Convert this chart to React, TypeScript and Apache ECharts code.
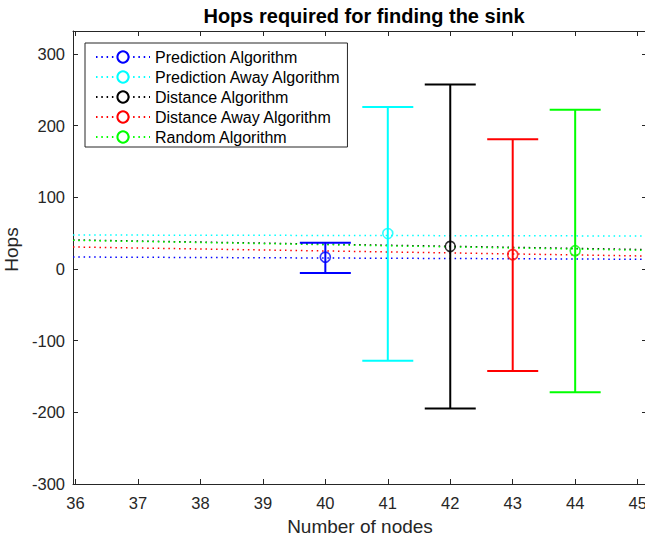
import React, { useEffect, useRef } from "react";
import * as echarts from "echarts";

const seriesNames = [
  "Prediction Algorithm",
  "Prediction Away Algorithm",
  "Distance Algorithm",
  "Distance Away Algorithm",
  "Random Algorithm",
];
const seriesColors = ["#0000ff", "#00ffff", "#000000", "#ff0000", "#00ff00"];
const nodeCounts = [40, 41, 42, 43, 44];
const meanHops = [16.5, 49.5, 31.5, 20, 25.5];
const lowerHops = [-5.5, -128, -194.5, -142.5, -172];
const upperHops = [36.5, 226, 257.5, 181, 222];
// dotted reference lines: value at left edge and right edge of the axis
const trendStartHops = [16.7, 47.4, 40.5, 30.7, 40];
const trendEndHops = [13.5, 46, 27, 18, 26];

const xTicks = [36, 37, 38, 39, 40, 41, 42, 43, 44, 45];
const yTicks = [-300, -200, -100, 0, 100, 200, 300];
const xMin = 35.96;
const xMax = 45.15;
const yMin = -300;
const yMax = 332;

const FONT = "'Liberation Sans', Arial, Helvetica, sans-serif";
const AXIS_COLOR = "#262626";

export default function App() {
  const ref = useRef<HTMLDivElement>(null);
  useEffect(() => {
    if (!ref.current) return;
    const chart = echarts.init(ref.current, undefined, { renderer: "svg" });

    const series: any[] = [];
    seriesNames.forEach((name, i) => {
      series.push({
        type: "line",
        name,
        data: [
          [xMin, trendStartHops[i]],
          [xMax, trendEndHops[i]],
        ],
        showSymbol: false,
        symbol: "emptyCircle",
        symbolSize: 11,
        color: seriesColors[i],
        itemStyle: { color: seriesColors[i], borderWidth: 1.5 },
        lineStyle: { color: seriesColors[i], width: 1.5, type: [1.5, 3.8] },
        z: 2,
        silent: true,
      });
    });
    seriesNames.forEach((name, i) => {
      series.push({
        type: "custom",
        id: "err" + i,
        data: [[nodeCounts[i], lowerHops[i], upperHops[i]]],
        encode: { x: 0, y: [1, 2] },
        renderItem: (params: any, api: any) => {
          const x = api.value(0);
          const lo = api.coord([x, api.value(1)]);
          const hi = api.coord([x, api.value(2)]);
          const hw = 25.5;
          const style = { stroke: seriesColors[i], lineWidth: 2 };
          return {
            type: "group",
            children: [
              { type: "line", shape: { x1: lo[0], y1: lo[1], x2: hi[0], y2: hi[1] }, style },
              { type: "line", shape: { x1: lo[0] - hw, y1: lo[1], x2: lo[0] + hw, y2: lo[1] }, style },
              { type: "line", shape: { x1: hi[0] - hw, y1: hi[1], x2: hi[0] + hw, y2: hi[1] }, style },
            ],
          };
        },
        z: 3,
        silent: true,
      });
      series.push({
        type: "scatter",
        id: "mk" + i,
        data: [[nodeCounts[i], meanHops[i]]],
        symbol: "circle",
        symbolSize: 10,
        itemStyle: { color: "rgba(0,0,0,0)", borderColor: seriesColors[i], borderWidth: 1.6 },
        z: 4,
        silent: true,
      });
    });

    const baseX = {
      type: "value",
      min: xMin,
      max: xMax,
      splitLine: { show: false },
      axisLine: { show: true, onZero: false, lineStyle: { color: AXIS_COLOR, width: 1 } },
      axisTick: { show: true, inside: true, length: 5, customValues: xTicks, lineStyle: { color: AXIS_COLOR } },
    };
    const baseY = {
      type: "value",
      min: yMin,
      max: yMax,
      splitLine: { show: false },
      axisLine: { show: true, onZero: false, lineStyle: { color: AXIS_COLOR, width: 1 } },
      axisTick: { show: true, inside: true, length: 5, customValues: yTicks, lineStyle: { color: AXIS_COLOR } },
    };

    chart.setOption({
      animation: false,
      backgroundColor: "#ffffff",
      textStyle: { fontFamily: FONT },
      title: {
        text: "Hops required for finding the sink",
        left: 359,
        textAlign: "center",
        top: 1,
        textStyle: { fontFamily: FONT, fontSize: 20, fontWeight: "bold", color: "#000000" },
      },
      grid: { left: 73, top: 31, width: 574, height: 453, containLabel: false, outerBoundsMode: "none" },
      legend: {
        data: seriesNames,
        orient: "vertical",
        left: 85,
        top: 43,
        itemWidth: 54,
        itemHeight: 14,
        itemGap: 4,
        padding: [6, 6, 2, 10],
        borderColor: "#262626",
        borderWidth: 1,
        backgroundColor: "#ffffff",
        textStyle: { fontFamily: FONT, fontSize: 16, lineHeight: 16, color: "#000000" },
        selectedMode: false,
      },
      xAxis: [
        {
          ...baseX,
          position: "bottom",
          name: "Number of nodes",
          nameLocation: "middle",
          nameGap: 33,
          nameTextStyle: { fontFamily: FONT, fontSize: 19, color: AXIS_COLOR },
          axisLabel: { customValues: xTicks, fontFamily: FONT, fontSize: 16.5, color: AXIS_COLOR, margin: 10 },
        },
        {
          ...baseX,
          position: "top",
          axisLabel: { show: false },
        },
      ],
      yAxis: [
        {
          ...baseY,
          position: "left",
          name: "Hops",
          nameLocation: "middle",
          nameGap: 46,
          nameTextStyle: { fontFamily: FONT, fontSize: 19, color: AXIS_COLOR, padding: [0, 0, 0, 16] },
          axisLabel: { customValues: yTicks, fontFamily: FONT, fontSize: 16.5, color: AXIS_COLOR, margin: 8 },
        },
        {
          ...baseY,
          position: "right",
          axisLabel: { show: false },
        },
      ],
      series,
    });
    return () => chart.dispose();
  }, []);
  return (
    <div
      ref={ref}
      style={{ position: "fixed", left: 0, top: 0, width: 645, height: 540 }}
    />
  );
}
